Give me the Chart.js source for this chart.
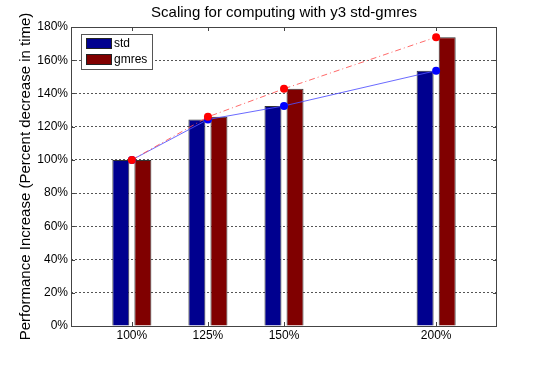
<!DOCTYPE html>
<html>
<head>
<meta charset="utf-8">
<script src="https://cdn.jsdelivr.net/npm/chart.js@4"></script>
<style>
  html, body { margin: 0; padding: 0; background: #fff; }
  #wrap { width: 550px; height: 367px; }
</style>
</head>
<body>
<div id="wrap"><canvas id="myChart" width="550" height="367"></canvas></div>
<script>
let scalePoints = [100, 125, 150, 200];
let stdData = [100, 124.3, 132.5, 153.7];
let gmresData = [100, 125.9, 142.8, 173.9];
let yTickValues = [0, 20, 40, 60, 80, 100, 120, 140, 160, 180];
let seriesNames = ["std", "gmres"];
let chartTitle = "Scaling for computing with y3 std-gmres";
let yAxisTitle = "Performance Increase (Percent decrease in time)";

function toPoints(values) {
  return scalePoints.map((x, i) => ({ x: x, y: values[i] }));
}

Chart.defaults.font.family = '"Liberation Sans", Arial, sans-serif';
Chart.defaults.color = "#000";

// frame, inward tick marks and the legend box, like matlab draws them
const matlabAxes = {
  id: "matlabAxes",
  afterDatasetsDraw(chart) {
    const { ctx, chartArea: a, scales } = chart;
    ctx.save();
    ctx.strokeStyle = "#444";
    ctx.lineWidth = 1;
    ctx.strokeRect(a.left + 0.5, a.top + 0.5, a.right - a.left - 1, a.bottom - a.top);
    ctx.beginPath();
    scales.x.ticks.forEach((t) => {
      const px = Math.round(scales.x.getPixelForValue(t.value)) + 0.5;
      ctx.moveTo(px, a.bottom);
      ctx.lineTo(px, a.bottom - 4);
      ctx.moveTo(px, a.top);
      ctx.lineTo(px, a.top + 4);
    });
    scales.y.ticks.forEach((t) => {
      const py = Math.round(scales.y.getPixelForValue(t.value)) + 0.5;
      ctx.moveTo(a.left, py);
      ctx.lineTo(a.left + 4, py);
      ctx.moveTo(a.right, py);
      ctx.lineTo(a.right - 4, py);
    });
    ctx.stroke();

    // legend
    const bars = chart.data.datasets.filter((d) => d.type === "bar");
    const bx = a.left + 10, by = a.top + 7, bw = 71, bh = 35;
    ctx.fillStyle = "#fff";
    ctx.fillRect(bx, by, bw, bh);
    ctx.strokeStyle = "#555";
    ctx.strokeRect(bx + 0.5, by + 0.5, bw, bh);
    ctx.font = '12px "Liberation Sans", Arial, sans-serif';
    ctx.textBaseline = "middle";
    bars.forEach((d, i) => {
      const sy = by + 4 + i * 16;
      ctx.fillStyle = d.backgroundColor;
      ctx.fillRect(bx + 5, sy, 26, 11);
      ctx.strokeStyle = "#222";
      ctx.strokeRect(bx + 5.5, sy + 0.5, 25, 10);
      ctx.fillStyle = "#000";
      ctx.fillText(d.label, bx + 33, sy + 6);
    });
    ctx.restore();
  },
};

const ctx = document.getElementById("myChart");

new Chart(ctx, {
  data: {
    datasets: [
      {
        type: "line",
        label: "gmres line",
        data: toPoints(gmresData),
        borderColor: "rgba(255, 80, 80, 0.85)",
        borderWidth: 1,
        borderDash: [6, 3, 1, 3],
        pointBackgroundColor: "#ff0000",
        pointBorderWidth: 0,
        pointRadius: 4,
        order: 0,
      },
      {
        type: "line",
        label: "std line",
        data: toPoints(stdData),
        borderColor: "rgba(80, 80, 255, 0.85)",
        borderWidth: 1,
        pointBackgroundColor: "#0000ff",
        pointBorderWidth: 0,
        pointRadius: 4,
        order: 1,
      },
      {
        type: "bar",
        label: seriesNames[0],
        data: toPoints(stdData),
        backgroundColor: "#00008f",
        borderColor: "#333",
        borderWidth: 1,
        categoryPercentage: 0.58,
        barPercentage: 0.77,
        order: 2,
      },
      {
        type: "bar",
        label: seriesNames[1],
        data: toPoints(gmresData),
        backgroundColor: "#800000",
        borderColor: "#333",
        borderWidth: 1,
        categoryPercentage: 0.58,
        barPercentage: 0.77,
        order: 2,
      },
    ],
  },
  options: {
    responsive: false,
    animation: false,
    layout: { padding: { left: 0, right: 53, top: 0, bottom: 0 } },
    plugins: {
      legend: { display: false },
      tooltip: { enabled: false },
      title: {
        display: true,
        fullSize: false,
        text: chartTitle,
        font: { size: 15, weight: "normal" },
        padding: { top: 4, bottom: 5 },
      },
    },
    scales: {
      x: {
        type: "linear",
        min: 80,
        max: 220,
        offset: false,
        afterBuildTicks: (scale) => {
          scale.ticks = scalePoints.map((v) => ({ value: v }));
        },
        afterFit: (scale) => {
          scale.height = 41;
        },
        ticks: {
          font: { size: 12 },
          padding: 2,
          maxRotation: 0,
          callback: (v) => v + "%",
        },
        grid: { display: false, drawTicks: false },
        border: { display: false },
      },
      y: {
        min: 0,
        max: 180,
        afterBuildTicks: (scale) => {
          scale.ticks = yTickValues.map((v) => ({ value: v }));
        },
        afterFit: (scale) => {
          scale.width = 71;
        },
        ticks: {
          font: { size: 12 },
          padding: 3,
          callback: (v) => v + "%",
        },
        grid: {
          drawTicks: false,
          color: (c) =>
            c.tick && (c.tick.value === 0 || c.tick.value === 180) ? "rgba(0,0,0,0)" : "#555",
        },
        border: { display: false, dash: [2, 2] },
        title: {
          display: true,
          text: yAxisTitle,
          font: { size: 15 },
          padding: { top: 17, bottom: 0 },
        },
      },
    },
  },
  plugins: [matlabAxes],
});
</script>
</body>
</html>
